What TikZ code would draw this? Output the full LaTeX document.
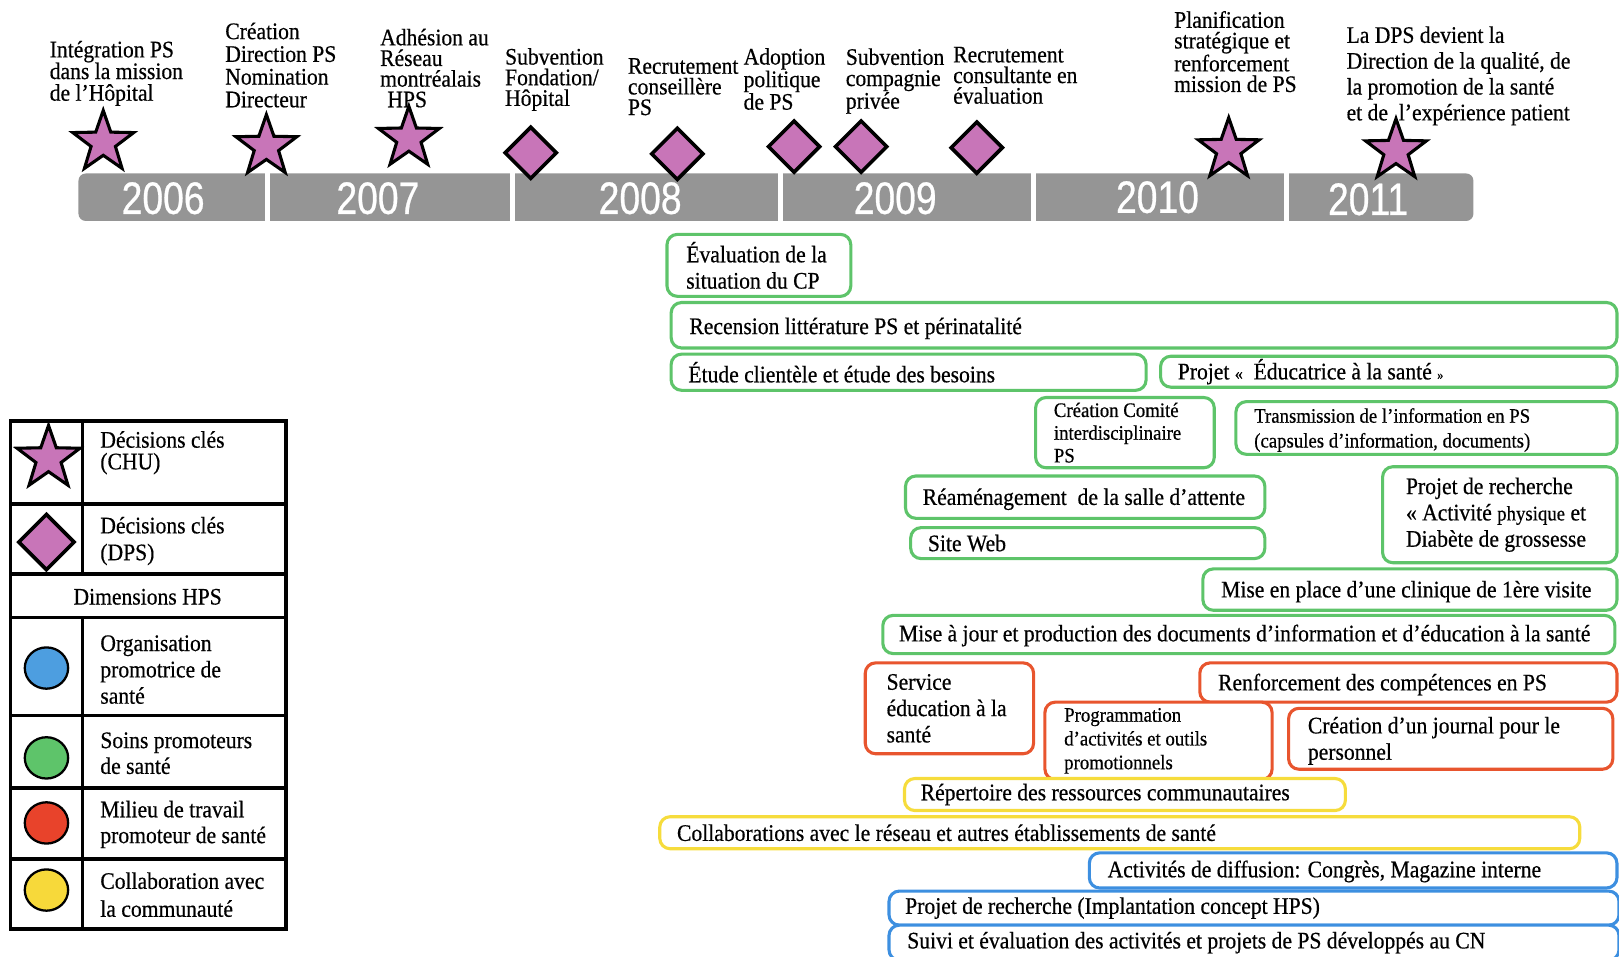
\documentclass[tikz,border=0pt]{standalone}
\usepackage{fontspec}
\setmainfont{Liberation Serif}[FakeStretch=0.91, FakeBold=0.5]
\newfontfamily\yearfont{Liberation Sans}[FakeStretch=0.82, FakeBold=0.6]
\usetikzlibrary{shapes.geometric}
\definecolor{barg}{HTML}{959595}
\definecolor{starc}{HTML}{C875B8}
\definecolor{gr}{HTML}{5EC46A}
\definecolor{rd}{HTML}{E8552E}
\definecolor{yl}{HTML}{F6DC3C}
\definecolor{bl}{HTML}{3D8FE0}
\definecolor{lbl}{HTML}{4D9EE0}
\definecolor{lgr}{HTML}{5EC46A}
\definecolor{lrd}{HTML}{E8432B}
\definecolor{lyl}{HTML}{F7D93A}
\tikzset{
  toplbl/.style={anchor=west, align=left, inner sep=0pt, font=\fontsize{23}{#1}\selectfont},
  yr/.style={text=white, inner sep=0pt, font=\yearfont\fontsize{44}{44}\selectfont},
  chu/.style={star, star points=5, star point ratio=2.5, minimum size=#1, inner sep=0pt, draw=black, line width=3pt, fill=starc},
  dps/.style={diamond, minimum size=#1, inner sep=0pt, draw=black, line width=3.5pt, fill=starc},
  abox/.style={draw=#1, line width=3pt, rounded corners=10pt, fill=white, inner sep=0pt},
  bt/.style={anchor=west, align=left, inner sep=0pt, font=\fontsize{23}{25.5}\selectfont},
  st/.style={anchor=west, align=left, inner sep=0pt, font=\fontsize{20}{#1}\selectfont},
  legline/.style={line width=3.5pt, draw=black},
  lt/.style={anchor=west, align=left, inner sep=0pt, font=\fontsize{23}{#1}\selectfont},
  dot/.style={ellipse, minimum width=42pt, minimum height=40pt, inner sep=0pt, draw=black, line width=2.2pt, fill=#1},
  sep/.style={white, line width=5pt}
}
\begin{document}
\begin{tikzpicture}[x=1pt, y=-1pt]
\useasboundingbox (0,0) rectangle (1568,926);
% ---------- timeline bar ----------
\node[fill=barg, rounded corners=7pt, minimum width=1351pt, minimum height=46pt, inner sep=0pt] (bar) at (751.5,191) {};
\draw[sep] (259,166) -- (259,216);
\draw[sep] (496,166) -- (496,216);
\draw[sep] (756,166) -- (756,216);
\draw[sep] (1001,166) -- (1001,216);
\draw[sep] (1246,166) -- (1246,216);
\node[yr] (y2006) at (158,192) {2006};
\node[yr] (y2007) at (366,192) {2007};
\node[yr] (y2008) at (620,192) {2008};
\node[yr] (y2009) at (867,192) {2009};
\node[yr] (y2010) at (1121,191) {2010};
\node[yr] (y2011) at (1325,193) {2011};
% ---------- markers ----------
\node[chu=62pt] (m1) at (100,138) {};
\node[chu=62pt] (m2) at (258,142) {};
\node[chu=62pt] (m3) at (396,134) {};
\node[dps=51pt] (m4) at (514,148) {};
\node[dps=51pt] (m5) at (656,149) {};
\node[dps=51pt] (m6) at (769,142) {};
\node[dps=51pt] (m7) at (834,142) {};
\node[dps=51pt] (m8) at (946,143) {};
\node[chu=62pt] (m9) at (1190,145) {};
\node[chu=62pt] (m10) at (1352,146) {};
% ---------- top labels ----------
\node[toplbl=21] (l1) at (48,71) {Intégration PS\\dans la mission\\de l’Hôpital};
\node[toplbl=22] (l2) at (218,63) {Création\\Direction PS\\Nomination\\Directeur};
\node[toplbl=20] (l3) at (368,66) {Adhésion au\\Réseau\\montréalais\\\hspace*{7pt}HPS};
\node[toplbl=20] (l4) at (489,77) {Subvention\\Fondation/\\Hôpital};
\node[toplbl=20] (l5) at (608,84) {Recrutement\\conseillère\\PS};
\node[toplbl=19.5] (l6) at (720,76.5) {Adoption\\politique\\de PS};
\node[toplbl=20.5] (l7) at (819,78.5) {Subvention\\compagnie\\privée};
\node[toplbl=20] (l8) at (923,73) {Recrutement\\consultante en\\évaluation};
\node[toplbl=20] (l9) at (1137,50) {Planification\\stratégique et\\renforcement\\mission de PS};
\node[toplbl=25] (l10) at (1304,73.5) {La DPS devient la\\Direction de la qualité, de\\la promotion de la santé\\et de \ l’expérience patient};
% ---------- legend ----------
\node[draw=black, line width=3.5pt, minimum width=267pt, minimum height=492pt, inner sep=0pt] (legend) at (143.5,654) {};
\draw[legline] (10,488) -- (277,488);
\draw[legline] (10,556) -- (277,556);
\draw[legline] (10,598) -- (277,598);
\draw[legline] (10,693) -- (277,693);
\draw[legline] (10,763) -- (277,763);
\draw[legline] (10,832) -- (277,832);
\draw[legline] (80,408) -- (80,556);
\draw[legline] (80,598) -- (80,900);
\node[chu=64pt] (k1) at (47,444) {};
\node[dps=55pt] (k2) at (45,525) {};
\node[dot=lbl] (k3) at (45,647) {};
\node[dot=lgr] (k4) at (45,734) {};
\node[dot=lrd] (k5) at (45,797) {};
\node[dot=lyl] (k6) at (45,862) {};
\node[lt=21] (kt1) at (97,438.5) {Décisions clés\\(CHU)};
\node[lt=26] (kt2) at (97,524) {Décisions clés\\(DPS)};
\node[inner sep=0pt, font=\fontsize{23}{24}\selectfont] (kt0) at (143,578) {Dimensions HPS};
\node[lt=25.5] (kt3) at (97,648.5) {Organisation\\promotrice de\\santé};
\node[lt=25] (kt4) at (97,729.5) {Soins promoteurs\\de santé};
\node[lt=25] (kt5) at (97,798.5) {Milieu de travail\\promoteur de santé};
\node[lt=27] (kt6) at (97,866.5) {Collaboration avec\\la communauté};
% ---------- activity boxes ----------
\node[abox=gr, minimum width=178pt, minimum height=60pt] (b1) at (735,257) {};
\node[bt] (t1) at ([xshift=20pt]b1.west) {Évaluation de la\\situation du CP};
\node[abox=gr, minimum width=916pt, minimum height=44pt] (b2) at (1108,315) {};
\node[bt] (t2) at ([xshift=19pt,yshift=-3pt]b2.west) {Recension littérature PS et périnatalité};
\node[abox=gr, minimum width=460pt, minimum height=35pt] (b3) at (880,360.5) {};
\node[bt] (t3) at ([xshift=18pt]b3.west) {Étude clientèle et étude des besoins};
\node[abox=gr, minimum width=442pt, minimum height=30pt] (b4) at (1345,360) {};
\node[bt] (t4) at ([xshift=18pt]b4.west) {Projet {\fontsize{17}{17}\selectfont«}\ \ Éducatrice à la santé {\fontsize{13}{13}\selectfont»}};
\node[abox=gr, minimum width=173pt, minimum height=68pt] (b5) at (1089.5,419) {};
\node[st=22] (t5) at ([xshift=19pt]b5.west) {Création Comité\\interdisciplinaire\\PS};
\node[abox=gr, minimum width=369pt, minimum height=51pt] (b6) at (1381.5,414.5) {};
\node[st=24] (t6) at ([xshift=19pt,yshift=-2pt]b6.west) {Transmission de l’information en PS\\(capsules d’information, documents)};
\node[abox=gr, minimum width=348pt, minimum height=41pt] (b7) at (1051,481.5) {};
\node[bt] (t7) at ([xshift=18pt,yshift=-2pt]b7.west) {Réaménagement \ de la salle d’attente};
\node[abox=gr, minimum width=343pt, minimum height=30pt] (b8) at (1053.5,526) {};
\node[bt] (t8) at ([xshift=18pt]b8.west) {Site Web};
\node[abox=gr, minimum width=227pt, minimum height=93pt] (b9) at (1452.5,498.5) {};
\node[bt] (t9) at ([xshift=24pt]b9.west) {Projet de recherche\\« Activité {\fontsize{20}{20}\selectfont physique} et\\Diabète de grossesse};
\node[abox=gr, minimum width=401pt, minimum height=40pt] (b10) at (1365.5,571) {};
\node[bt] (t10) at ([xshift=19pt,yshift=-2pt]b10.west) {Mise en place d’une clinique de 1ère visite};
\node[abox=gr, minimum width=709pt, minimum height=37pt] (b11) at (1209.5,614.5) {};
\node[bt] (t11) at ([xshift=17pt,yshift=-1pt]b11.west) {Mise à jour et production des documents d’information et d’éducation à la santé};
\node[abox=rd, minimum width=163pt, minimum height=88pt] (b12) at (919.5,686) {};
\node[bt] (t12) at ([xshift=22pt]b12.west) {Service\\éducation à la\\santé};
\node[abox=rd, minimum width=404pt, minimum height=38pt] (b13) at (1364,661) {};
\node[bt] (t13) at ([xshift=19pt,yshift=-2pt]b13.west) {Renforcement des compétences en PS};
\node[abox=rd, minimum width=220pt, minimum height=75pt] (b14) at (1122,717.5) {};
\node[st=23] (t14) at ([xshift=20pt]b14.west) {Programmation\\d’activités et outils\\promotionnels};
\node[abox=rd, minimum width=314pt, minimum height=59pt] (b15) at (1405,715.5) {};
\node[bt] (t15) at ([xshift=20pt,yshift=-2pt]b15.west) {Création d’un journal pour le\\personnel};
\node[abox=yl, minimum width=427pt, minimum height=31pt] (b16) at (1089.5,769.5) {};
\node[bt] (t16) at ([xshift=17pt]b16.west) {Répertoire des ressources communautaires};
\node[abox=yl, minimum width=891pt, minimum height=31pt] (b17) at (1084.5,806.5) {};
\node[bt] (t17) at ([xshift=18pt]b17.west) {Collaborations avec le réseau et autres établissements de santé};
\node[abox=bl, minimum width=511pt, minimum height=34pt] (b18) at (1310.5,843) {};
\node[bt] (t18) at ([xshift=19pt,yshift=-1pt]b18.west) {Activités de diffusion: Congrès, Magazine interne};
\node[abox=bl, minimum width=707pt, minimum height=33pt] (b19) at (1214.5,879.5) {};
\node[bt] (t19) at ([xshift=17pt]b19.west) {Projet de recherche (Implantation concept HPS)};
\node[abox=bl, minimum width=707pt, minimum height=34pt] (b20) at (1214.5,913) {};
\node[bt] (t20) at ([xshift=19pt]b20.west) {Suivi et évaluation des activités et projets de PS développés au CN};
\end{tikzpicture}
\end{document}
